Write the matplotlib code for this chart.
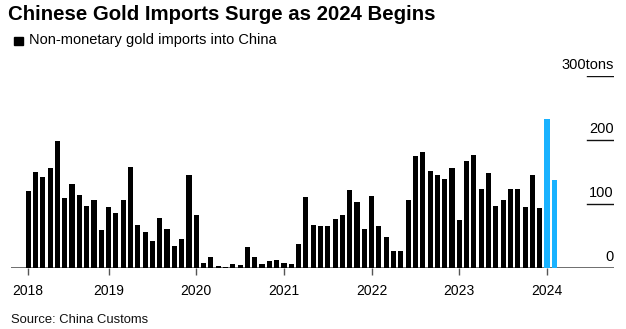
import matplotlib
matplotlib.use("Agg")
import matplotlib.pyplot as plt
from matplotlib.patches import Rectangle
import pandas as pd

plt.rcParams['font.family'] = ['Liberation Sans', 'DejaVu Sans']

# ---- data (tons, monthly, Feb 2018 - Feb 2024) ----
months = [str(p) for p in pd.period_range('2018-02', '2024-02', freq='M')]
imports_2018 = [121, 149.5, 142, 156, 199, 110, 131, 115, 97.5, 106, 60.5]
imports_2019 = [96.4, 85.5, 106, 158, 68, 57, 43, 79, 61.5, 34.5, 45.5, 146]
imports_2020 = [83.5, 9, 17, 4, 2.5, 6, 5, 34, 17, 7, 11.5, 13.5]
imports_2021 = [9, 6, 38, 111.5, 68, 66.5, 66, 77, 83.5, 122.5, 104, 61.5]
imports_2022 = [113, 66.5, 49.5, 27.5, 26.5, 106, 175.5, 182, 152, 145, 139.5, 157]
imports_2023 = [75.5, 168, 177.5, 124, 148, 97.5, 107, 123, 124, 95, 146, 94]
imports_2024 = [233, 138.5]
values = (imports_2018 + imports_2019 + imports_2020 + imports_2021
          + imports_2022 + imports_2023 + imports_2024)
tick_years = [2018, 2019, 2020, 2021, 2022, 2023, 2024]
y_ticks = [0, 100, 200, 300]
y_labels = ['0', '100', '200', '300tons']

title = "Chinese Gold Imports Surge as 2024 Begins"
legend_label = "Non-monetary gold imports into China"
source = "Source: China Customs"

# ---- layout ----
W, H = 626, 329
fig = plt.figure(figsize=(W / 100, H / 100), dpi=100)
ax_l, ax_r = 11, 614
ax_b, ax_t = 268.3, 76
ax = fig.add_axes([ax_l / W, 1 - ax_b / H, (ax_r - ax_l) / W, (ax_b - ax_t) / H])

x = [(int(m[:4]) - 2018) * 12 + int(m[5:7]) - 1 for m in months]
colors = ['#19b2ff' if m.startswith('2024') else '#000000' for m in months]
ax.bar(x, values, width=0.7, color=colors, linewidth=0)

ax.set_xlim(-1.354, 81.17)
ax.set_ylim(0, 300)
for s in ax.spines.values():
    s.set_visible(False)
ax.set_yticks([])

tick_pos = [max(x[0], (yr - 2018) * 12) for yr in tick_years]
ax.set_xticks(tick_pos)
ax.set_xticklabels([str(yr) for yr in tick_years], fontsize=10, color='#000000')
ax.tick_params(axis='x', length=5, width=1, color='#555555', pad=6)

ax.axhline(0, color='#555555', lw=1.2, zorder=0.5)
for v, lab in zip(y_ticks, y_labels):
    if v > 0:
        ax.axhline(v, xmin=0.9547, xmax=1.0, color='#111111', lw=1)
    ax.annotate(lab, xy=(1.0, v), xycoords=('axes fraction', 'data'),
                xytext=(0, 5), textcoords='offset points',
                ha='right', va='baseline', fontsize=10.5, color='#000000',
                annotation_clip=False)

fig.text(8 / W, 1 - 19.5 / H, title, fontsize=14.7, fontweight='bold',
         ha='left', va='baseline')
fig.patches.append(Rectangle((13.7 / W, 1 - 45 / H), 9 / W, 8 / H,
                             transform=fig.transFigure, color='black'))
fig.text(29.3 / W, 1 - 44.3 / H, legend_label, fontsize=10.5,
         ha='left', va='baseline')
fig.text(11 / W, 1 - 322.7 / H, source, fontsize=9.4,
         ha='left', va='baseline', color='#111111')

fig.savefig('out.png', dpi=100)
